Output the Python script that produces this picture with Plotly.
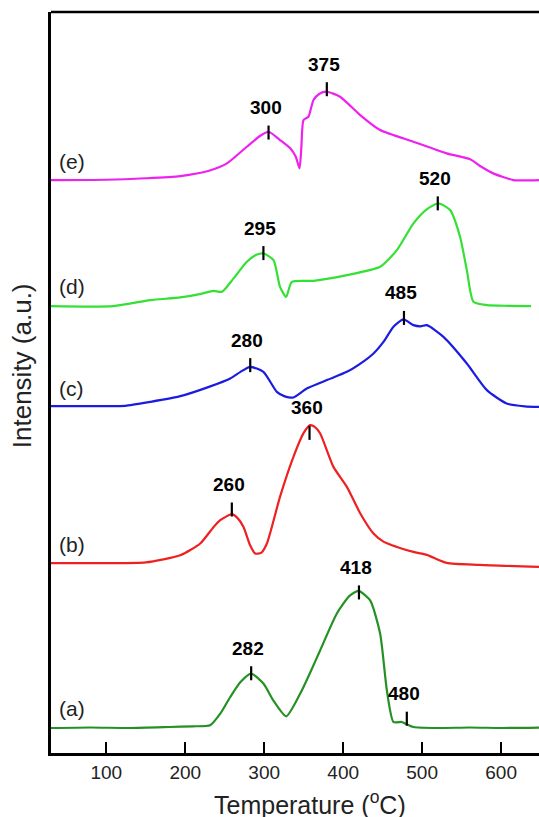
import plotly.graph_objects as go

# ---- data ----
T_a = [30, 80, 130, 180, 210, 231.6, 245, 257, 270, 283.5, 299, 312, 327.8, 345.6, 358, 370.9, 392, 408, 419.4, 434, 446.8, 455.3, 463.7, 474.3, 480, 489, 520, 560, 600, 648]
I_a = [25, 25.5, 25, 26, 26.7, 27.7, 40, 56, 71, 79.4, 69.4, 52, 36.7, 59.4, 80, 102.7, 139.4, 157, 162, 152.7, 119.4, 62.7, 31, 31, 29, 26, 25, 25.5, 25, 25.4]

T_b = [30, 100, 150, 193.7, 219, 235, 244.3, 259, 266, 273.8, 282, 288.6, 296, 303.4, 320, 337, 350, 358.2, 364, 370.9, 387.7, 404.7, 421.5, 438.4, 451.5, 468, 489, 506, 531, 573, 648]
I_b = [189.7, 189.7, 190.5, 197.7, 209.4, 225, 232.7, 238.7, 235, 226, 208, 199.4, 200, 209.4, 256, 296, 320, 327.7, 326, 319.4, 286, 266, 239.7, 219.4, 211, 206, 201, 198, 190, 188, 186]

T_c = [30, 100, 124, 155.7, 193.7, 230, 257, 270, 282.3, 299, 316, 326, 337, 354, 380, 404.7, 425, 438.4, 452, 463.7, 476.3, 489, 498, 506, 527, 556.6, 582, 607, 630, 648]
I_c = [346.7, 346.7, 347, 351, 356.7, 366, 374.4, 381, 386, 381, 361, 356.5, 355.4, 364.4, 373, 381, 391, 399.4, 412, 426, 433.4, 427.7, 426.5, 427.7, 416, 389.4, 362.7, 349.4, 346.5, 346]

T_d = [30, 109, 155.7, 193.7, 220, 235.8, 246.4, 261.2, 278, 290, 299, 311.8, 320, 327.8, 335, 362.4, 404.7, 446.8, 468, 489, 505, 520.6, 535.4, 548, 556.6, 565, 582, 610, 638]
I_d = [446.7, 446.7, 452.7, 455.4, 459, 462, 461, 474.4, 491, 498, 499.4, 492.7, 466, 456, 471, 472, 477.7, 486, 502.7, 529.4, 543, 549.4, 542.7, 516, 482.7, 451, 447.7, 447, 446.7]

T_e = [30, 100, 150, 193.7, 230, 252.8, 278, 295, 305.5, 320, 333, 340, 344.7, 347, 349.8, 356, 362.4, 370, 379.3, 396, 421.5, 446.8, 489, 531, 560.8, 575, 590, 615.6, 648]
I_e = [572.7, 573, 574.5, 576.7, 582, 589.4, 606, 617, 621, 612.7, 604.4, 596, 584.4, 605, 632.7, 636, 652.7, 659, 661, 656, 637.7, 622.7, 611, 599.4, 593.4, 586, 579.4, 572.7, 572.7]

series_names = ["(a)", "(b)", "(c)", "(d)", "(e)"]
series_label_I = [44.7, 208.7, 364.7, 466, 591]
colors = ["#259125", "#ee2020", "#1c1ce0", "#33e033", "#ee22ee"]

peak_T = [[283.5, 420, 480.6], [259, 357.4], [282.3, 477], [299, 519.8], [305.5, 379.3]]
peak_I = [[79.7, 160.5, 34.3], [243.4, 320], [387.7, 434.9], [499.7, 549.4], [620.2, 663.5]]
peak_text = [["282", "418", "480"], ["260", "360"], ["280", "485"], ["295", "520"], ["300", "375"]]

x_ticks = [100, 200, 300, 400, 500, 600]
x_range = [30, 648]
y_range = [0, 740.7]

FONT = "Arial, Liberation Sans, sans-serif"

fig = go.Figure()
curves = [(T_a, I_a), (T_b, I_b), (T_c, I_c), (T_d, I_d), (T_e, I_e)]
for (tx, iy), col, nm in zip(curves, colors, series_names):
    fig.add_trace(go.Scatter(x=tx, y=iy, mode="lines", name=nm,
                             line=dict(color=col, width=2.2, shape="spline", smoothing=0.6),
                             showlegend=False, hoverinfo="skip"))

shapes = []
annotations = []
for pts, vals, txts in zip(peak_T, peak_I, peak_text):
    for t, v, s in zip(pts, vals, txts):
        shapes.append(dict(type="line", xref="x", yref="y", x0=t, x1=t, y0=v - 7, y1=v + 7,
                           line=dict(color="black", width=2.2)))
        annotations.append(dict(x=t, y=v, xref="x", yref="y", text="<b>%s</b>" % s,
                                showarrow=False, xshift=-3, yshift=25, yanchor="middle",
                                font=dict(family=FONT, size=19, color="black")))

for nm, v in zip(series_names, series_label_I):
    annotations.append(dict(x=37.3, y=v, xref="x", yref="y", text=nm, showarrow=False,
                            xanchor="left", yanchor="middle",
                            font=dict(family=FONT, size=21, color="#222222")))

# top frame line
shapes.append(dict(type="line", xref="paper", yref="paper", x0=0, x1=1, y0=1, y1=1,
                   line=dict(color="black", width=2.5)))

annotations.append(dict(x=0.531, y=0, xref="paper", yref="paper", yshift=-50,
                        text="Temperature (<sup>o</sup>C)", showarrow=False,
                        xanchor="center", yanchor="middle",
                        font=dict(family=FONT, size=25, color="#222222")))
annotations.append(dict(x=-0.0594, y=0.522, xref="paper", yref="paper",
                        text="Intensity (a.u.)", showarrow=False, textangle=-90,
                        xanchor="center", yanchor="middle",
                        font=dict(family=FONT, size=26, color="#222222")))

fig.update_layout(
    width=539, height=817,
    margin=dict(l=51, r=0, t=12, b=64),
    paper_bgcolor="white", plot_bgcolor="white",
    shapes=shapes, annotations=annotations,
    xaxis=dict(range=x_range, tickvals=x_ticks, ticktext=[str(t) for t in x_ticks],
               ticks="inside", ticklen=11, tickwidth=2.4, tickcolor="black",
               showline=True, linecolor="black", linewidth=2.5,
               showgrid=False, zeroline=False,
               tickfont=dict(family=FONT, size=19, color="#222222")),
    yaxis=dict(range=y_range, showticklabels=False, ticks="",
               showline=True, linecolor="black", linewidth=2.5,
               showgrid=False, zeroline=False),
)

fig.write_html("out.html", config={"displayModeBar": False},
               post_script="document.body.style.margin='0px';document.body.style.overflow='hidden';")
